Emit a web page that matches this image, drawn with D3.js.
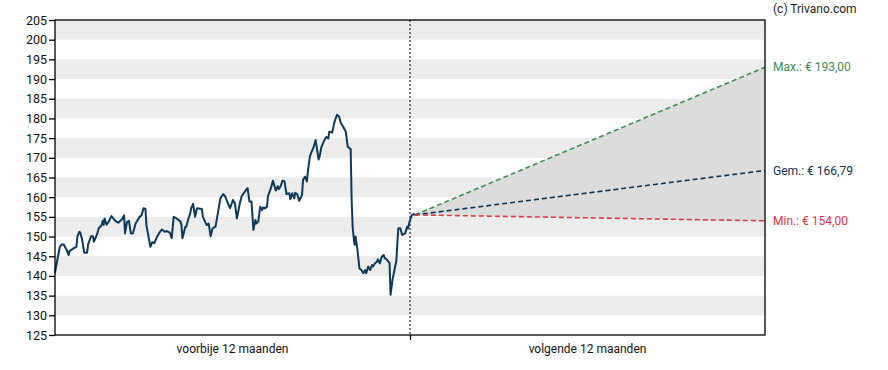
<!DOCTYPE html>
<html>
<head>
<meta charset="utf-8">
<script src="https://cdn.jsdelivr.net/npm/d3@7"></script>
<style>
  body { margin: 0; background: #fff; }
  text { font-family: Roboto, "Liberation Sans", sans-serif; }
</style>
</head>
<body>
<script>
// --- data ---
// days relative to today (0 = dotted line), price in euro
const histDays = [
  -365,-363,-360,-358,-356,-353,-351,-350,-346,-343,
  -342,-340,-339,-337,-335,-332,-331,-328,-326,-325,
  -322,-320,-317,-316,-315,-314,-312,-310,-307,-303,
  -300,-296,-294,-293,-291,-289,-287,-285,-282,-278,
  -276,-274,-272,-271,-267,-265,-263,-260,-257,-255,
  -252,-250,-247,-245,-243,-240,-238,-236,-235,-234,
  -231,-230,-228,-226,-225,-223,-221,-219,-214,-213,
  -209,-207,-205,-203,-200,-197,-195,-192,-190,-188,
  -185,-182,-180,-178,-175,-173,-171,-169,-167,-165,
  -163,-161,-159,-158,-156,-154,-152,-151,-149,-147,
  -146,-143,-141,-138,-136,-135,-133,-131,-129,-127,
  -124,-123,-121,-119,-118,-116,-114,-111,-110,-108,
  -106,-105,-103,-101,-99,-97,-94,-93,-91,-88,
  -86,-84,-83,-82,-80,-78,-76,-75,-73,-71,
  -69,-66,-64,-62,-61,-60,-59,-58,-57,-56,
  -54,-52,-50,-48,-46,-45,-43,-41,-39,-38,
  -36,-34,-33,-31,-29,-27,-26,-24,-22,-21,
  -20,-18,-16,-14,-13,-12,-10,-8,-5,-3,
  -2,0,2,4,5
];
const histPrice = [
  140.8,143.6,147.4,148.0,148.0,146.6,145.3,146.3,147.0,147.4,
  150.0,151.2,151.0,149.1,145.9,145.9,147.9,150.1,150.1,148.7,
  150.4,152.1,152.9,154.0,153.0,154.6,153.0,153.7,155.2,154.0,
  153.5,154.4,155.4,150.8,153.7,154.0,150.8,150.8,153.4,155.0,
  155.4,157.2,157.0,152.9,147.4,148.6,148.3,150.0,151.2,151.8,
  151.2,151.4,151.0,149.6,155.0,154.6,154.2,153.8,153.0,149.6,
  152.5,152.5,154.4,155.9,157.2,158.3,155.0,157.2,157.0,155.0,
  152.9,153.3,150.1,152.1,152.5,156.7,159.7,160.8,160.2,158.9,
  157.2,159.3,158.4,154.6,158.4,160.3,161.0,161.7,162.3,158.9,
  158.9,151.7,154.2,153.3,153.8,157.6,156.7,157.4,157.2,157.6,
  160.3,162.3,164.2,161.7,162.8,162.0,162.8,164.2,164.0,160.8,
  161.0,159.5,161.0,159.7,161.1,160.8,159.1,160.6,164.4,165.2,
  164.0,166.5,170.3,171.6,172.8,174.5,169.6,170.3,172.8,174.5,
  175.3,174.9,176.6,176.6,176.4,178.8,180.3,180.9,180.5,178.8,
  178.0,176.6,172.8,172.4,172.2,159.3,152.5,150.0,147.9,150.0,
  146.6,141.9,141.5,140.7,141.5,140.7,142.4,141.5,142.8,142.4,
  143.2,143.6,144.2,143.2,144.9,145.3,144.5,144.2,143.6,143.2,
  135.2,139.0,141.5,144.0,148.3,152.1,152.1,150.4,150.8,152.5,
  152.1,154.2,155.5,155.7,155.5
];

const forecastNames = ["Max.", "Gem.", "Min."];
const forecastValues = [193.00, 166.79, 154.00];
const forecastColors = ["#3d8f55", "#0d3552", "#e5333f"];

const yTicks = d3.range(125, 206, 5);
const periodLabels = ["voorbije 12 maanden", "volgende 12 maanden"];

// --- layout ---
const W = 888, H = 370;
const margin = { top: 20, right: 123, bottom: 35, left: 55 };
const width = W - margin.left - margin.right;
const height = H - margin.top - margin.bottom;

const x = d3.scaleLinear().domain([-365, 365]).range([0, width]);
const y = d3.scaleLinear().domain([125, 205]).range([height, 0]);

const svg = d3.select("body").append("svg")
  .attr("width", W).attr("height", H);

svg.append("text")
  .attr("x", 773).attr("y", 13)
  .attr("font-size", 12).attr("fill", "#222")
  .text("(c) Trivano.com");

const g = svg.append("g")
  .attr("transform", "translate(" + margin.left + "," + margin.top + ")");

// stripes
g.selectAll(".band")
  .data(yTicks.filter(t => t < 205 && (t % 10 === 0)))
  .enter().append("rect")
  .attr("x", 0)
  .attr("width", width)
  .attr("y", d => y(d + 5))
  .attr("height", d => y(d) - y(d + 5))
  .attr("fill", "#ececec");

// forecast area
const lastDay = histDays[histDays.length - 1];
const lastPrice = histPrice[histPrice.length - 1];
const area = d3.area()
  .x(d => x(d[0])).y0(d => y(d[1])).y1(d => y(d[2]));
g.append("path")
  .datum([[lastDay, lastPrice, lastPrice], [365, forecastValues[2], forecastValues[0]]])
  .attr("fill", "#dcdcdc")
  .attr("d", area);

// dotted today line
g.append("line")
  .attr("x1", x(0)).attr("x2", x(0))
  .attr("y1", 0).attr("y2", height)
  .attr("stroke", "#000")
  .attr("stroke-dasharray", "2,2");

// forecast lines
forecastValues.forEach((v, i) => {
  g.append("line")
    .attr("x1", x(lastDay)).attr("y1", y(lastPrice))
    .attr("x2", x(365)).attr("y2", y(v))
    .attr("stroke", forecastColors[i])
    .attr("stroke-width", 1.6)
    .attr("stroke-dasharray", "5,3");
  svg.append("text")
    .attr("x", margin.left + width + 8)
    .attr("y", margin.top + y(v))
    .attr("dy", "0.35em")
    .attr("font-size", 12)
    .attr("fill", forecastColors[i])
    .text(forecastNames[i] + ": € " + d3.format(".2f")(v).replace(".", ","));
});

// history line
const line = d3.line()
  .x((d, i) => x(histDays[i]))
  .y(d => y(d));
g.append("path")
  .datum(histPrice)
  .attr("fill", "none")
  .attr("stroke", "#0b3a5a")
  .attr("stroke-width", 2)
  .attr("stroke-linejoin", "round")
  .attr("d", line);

// frame
g.append("rect")
  .attr("width", width).attr("height", height)
  .attr("fill", "none").attr("stroke", "#000").attr("stroke-width", 1.3);

// y axis
const yAxis = g.append("g")
  .call(d3.axisLeft(y).tickValues(yTicks).tickSize(6).tickPadding(2));
yAxis.select(".domain").remove();
yAxis.selectAll("line").attr("stroke", "#000").attr("stroke-width", 1.3);
yAxis.selectAll("text").attr("font-size", 12.5).attr("fill", "#111")
  .style("font-family", "Roboto, sans-serif");

// x axis
const xAxis = g.append("g")
  .attr("transform", "translate(0," + height + ")")
  .call(d3.axisBottom(x).tickValues([0]).tickSize(5).tickFormat(""));
xAxis.select(".domain").remove();
xAxis.selectAll("line").attr("stroke", "#000").attr("stroke-width", 1.3);

g.selectAll(".plabel")
  .data(periodLabels)
  .enter().append("text")
  .attr("x", (d, i) => x(i === 0 ? -182.5 : 182.5))
  .attr("y", height + 18)
  .attr("text-anchor", "middle")
  .attr("font-size", 12)
  .attr("fill", "#111")
  .text(d => d);
</script>
</body>
</html>
